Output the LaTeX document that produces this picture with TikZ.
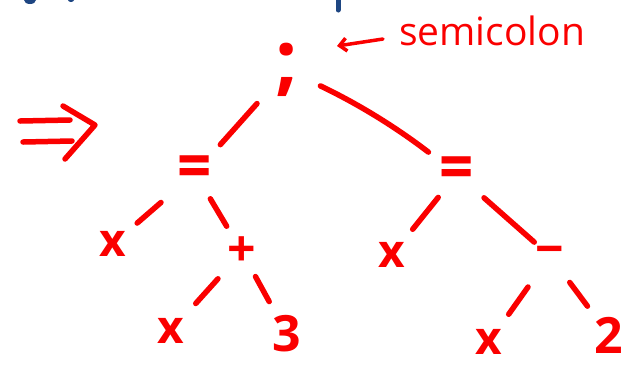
\documentclass[tikz,border=0pt]{standalone}
\usepackage{fontspec}
\setmainfont{Open Sans}
\usepackage{tikz}
\usetikzlibrary{positioning,arrows.meta}
\definecolor{penred}{RGB}{250,0,0}
\definecolor{penblue}{RGB}{30,70,130}

\begin{document}
\begin{tikzpicture}[x=1pt,y=-1pt,
	pen/.style={draw=penred,line width=5.5pt,line cap=round},
	tok/.style={text=penred,inner sep=0pt,font=\fontsize{50}{50}\selectfont\bfseries},
	vartok/.style={tok,font=\fontsize{46}{46}\selectfont\bfseries},
	numtok/.style={tok,font=\fontsize{50}{50}\selectfont\bfseries},
	note/.style={text=penred,inner sep=0pt,font=\fontsize{39}{39}\selectfont}]
				\useasboundingbox (0,0) rectangle (636,368);
				% bits of the line above, cut off
				\draw[penblue,line width=5pt,line cap=round] (338,0) -- (338,10);
				\fill[penblue] (30,0) ellipse (6 and 4);
				\fill[penblue] (71,0) ellipse (3 and 2);
				% the tree
				\node[tok,font=\fontsize{78}{78}\selectfont\bfseries] (semi) at (287,70) {;};
				\node[tok] (eqL) at (195,173) {\scalebox{1.2}[1.35]{=}};
				\node[tok] (eqR) at (457,174) {\scalebox{1.2}[1.35]{=}};
				\node[vartok] (xL) at (113,244) {x};
				\node[tok] (plus) at (242,252) {+};
				\node[vartok] (xR) at (392,255) {x};
				\node[tok] (minus) at (550,256) {−};
				\node[vartok] (xLL) at (171,331) {x};
				\node[numtok] (three) at (287,334) {3};
				\node[vartok] (xRR) at (489,342) {x};
				\node[numtok] (two) at (609,335) {2};
				% edges
				\foreach \a/\b/\s/\e in {semi/eqL/45/38,eqL/xL/45/32,eqL/plus/30/30,plus/xLL/36/37,
					plus/three/28/37,eqR/xR/30/33,eqR/minus/36/21,minus/xRR/38/34,minus/two/33/36}{
					\draw[pen,shorten <=\s pt,shorten >=\e pt] (\a.center) -- (\b.center);
				}
				\draw[pen,shorten <=37pt,shorten >=36pt] (semi.center) to[bend left=6] (eqR.center);
				% label and its arrow
				\node[note,anchor=west] (lbl) at (399,31) {semicolon};
				\coordinate (arrowTail) at (383,39);
				\coordinate (arrowTip) at (337,46);
				\draw[penred,line width=3.5pt,line cap=round,-{Straight Barb[length=7pt,width=13pt]}] (arrowTail) -- (arrowTip);
				% implies sign
				\draw[pen] (20,121) -- (70,120);
				\draw[pen] (23,142) -- (72,141);
				\draw[pen,line join=round] (63,106) -- (95,125) -- (65,159);
			\end{tikzpicture}
\end{document}
